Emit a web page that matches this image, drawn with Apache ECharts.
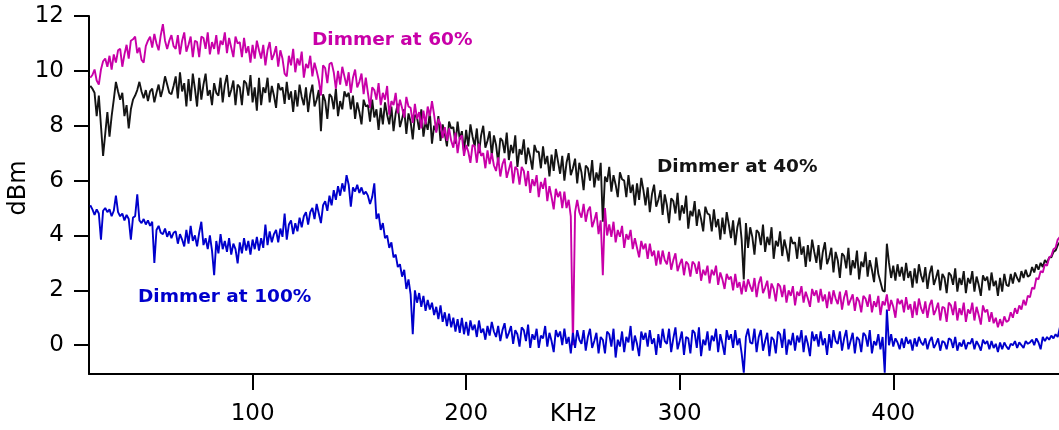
<!DOCTYPE html>
<html>
<head>
<meta charset="utf-8">
<script src="https://cdn.jsdelivr.net/npm/echarts@6/dist/echarts.min.js"></script>
<style>
html,body{margin:0;padding:0;background:#fff;}
#c{width:1059px;height:430px;}
</style>
</head>
<body>
<div id="c"></div>
<script>
// Frequency (KHz)
const freq = [
24,25,26,27,28,29,30,31,32,33,
34,35,36,37,38,39,40,41,42,43,
44,45,46,47,48,49,50,51,52,53,
54,55,56,57,58,59,60,61,62,63,
64,65,66,67,68,69,70,71,72,73,
74,75,76,77,78,79,80,81,82,83,
84,85,86,87,88,89,90,91,92,93,
94,95,96,97,98,99,100,101,102,103,
104,105,106,107,108,109,110,111,112,113,
114,115,116,117,118,119,120,121,122,123,
124,125,126,127,128,129,130,131,132,133,
134,135,136,137,138,139,140,141,142,143,
144,145,146,147,148,149,150,151,152,153,
154,155,156,157,158,159,160,161,162,163,
164,165,166,167,168,169,170,171,172,173,
174,175,176,177,178,179,180,181,182,183,
184,185,186,187,188,189,190,191,192,193,
194,195,196,197,198,199,200,201,202,203,
204,205,206,207,208,209,210,211,212,213,
214,215,216,217,218,219,220,221,222,223,
224,225,226,227,228,229,230,231,232,233,
234,235,236,237,238,239,240,241,242,243,
244,245,246,247,248,249,250,251,252,253,
254,255,256,257,258,259,260,261,262,263,
264,265,266,267,268,269,270,271,272,273,
274,275,276,277,278,279,280,281,282,283,
284,285,286,287,288,289,290,291,292,293,
294,295,296,297,298,299,300,301,302,303,
304,305,306,307,308,309,310,311,312,313,
314,315,316,317,318,319,320,321,322,323,
324,325,326,327,328,329,330,331,332,333,
334,335,336,337,338,339,340,341,342,343,
344,345,346,347,348,349,350,351,352,353,
354,355,356,357,358,359,360,361,362,363,
364,365,366,367,368,369,370,371,372,373,
374,375,376,377,378,379,380,381,382,383,
384,385,386,387,388,389,390,391,392,393,
394,395,396,397,398,399,400,401,402,403,
404,405,406,407,408,409,410,411,412,413,
414,415,416,417,418,419,420,421,422,423,
424,425,426,427,428,429,430,431,432,433,
434,435,436,437,438,439,440,441,442,443,
444,445,446,447,448,449,450,451,452,453,
454,455,456,457,458,459,460,461,462,463,
464,465,466,467,468,469,470,471,472,473,
474,475,476,477,478
];

// Dimmer at 40% (dBm)
const dimmer40 = [
9.45,9.35,9.2,8.35,9.1,8.0,6.9,7.7,8.5,7.6,
8.35,8.95,9.6,9.25,8.95,9.2,8.35,8.75,7.9,8.6,
8.95,9.1,9.3,9.6,9.25,9.0,9.3,8.9,9.25,9.35,
8.85,9.2,9.5,9.05,9.35,9.8,9.5,9.2,9.15,9.45,
9.8,9.0,9.95,9.25,9.55,8.7,9.7,8.9,9.9,9.35,
8.7,9.75,8.95,9.5,9.9,9.1,9.3,8.75,9.55,9.2,
9.1,9.75,8.85,9.5,9.85,9.05,9.3,9.65,8.75,9.5,
9.4,8.75,9.65,9.55,9.1,9.85,8.85,9.4,8.55,9.75,
8.75,9.4,9.2,9.75,8.85,9.45,9.1,8.65,9.55,9.3,
9.4,8.8,9.6,8.95,9.25,8.5,9.3,8.7,9.5,9.05,
8.75,9.4,8.5,9.15,9.5,8.7,8.95,9.3,7.8,9.15,
8.9,8.25,9.15,9.05,8.6,9.35,8.35,8.9,8.6,9.25,
9.05,9.2,8.6,9.1,8.25,8.85,8.5,8.05,8.95,8.7,
8.75,8.15,8.95,8.3,8.6,7.85,8.65,8.05,8.85,8.4,
8.05,8.7,7.8,8.45,8.8,7.95,8.25,8.6,7.7,8.45,
8.15,7.5,8.4,8.3,7.85,8.6,7.6,8.15,7.85,8.5,
7.35,8.0,7.8,8.35,7.45,8.05,7.7,7.25,8.15,7.9,
7.95,7.35,8.15,7.5,7.8,7.05,7.85,7.25,8.05,7.6,
7.25,7.9,7.0,7.65,8.0,7.2,7.45,7.8,6.9,7.65,
7.3,6.65,7.55,7.45,7.0,7.75,6.75,7.3,7.0,7.65,
6.5,7.15,6.95,7.5,6.6,7.2,6.85,6.4,7.3,7.05,
7.05,6.45,7.25,6.6,6.9,6.15,6.95,6.35,7.15,6.7,
6.25,6.9,6.0,6.65,7.0,6.2,6.45,6.8,5.9,6.65,
6.3,5.65,6.55,6.45,6.0,6.75,5.75,6.3,6.0,6.65,
4.5,6.15,5.95,6.5,5.6,6.2,5.85,5.4,6.3,6.05,
6.0,5.4,6.2,5.55,5.85,5.1,5.9,5.3,6.1,5.65,
5.1,5.75,4.85,5.5,5.85,5.05,5.3,5.65,4.75,5.5,
5.1,4.45,5.35,5.25,4.8,5.55,4.55,5.1,4.8,5.45,
4.25,4.9,4.7,5.25,4.35,4.95,4.6,4.15,5.05,4.8,
4.75,4.15,4.95,4.3,4.6,3.85,4.65,4.05,4.85,4.4,
3.9,4.55,3.65,4.3,4.65,3.85,2.4,4.45,3.55,4.3,
3.95,3.3,4.2,4.1,3.65,4.4,3.4,3.95,3.65,4.3,
3.15,3.8,3.6,4.15,3.25,3.85,3.5,3.05,3.95,3.7,
3.75,3.15,3.95,3.3,3.6,2.85,3.65,3.05,3.85,3.4,
3.0,3.65,2.75,3.4,3.75,2.95,3.2,3.55,2.65,3.4,
3.1,2.45,3.35,3.25,2.8,3.55,2.55,3.1,2.8,3.45,
2.4,3.05,2.85,3.4,2.5,3.1,2.75,2.3,3.2,2.6,
2.3,2.0,1.95,3.7,3.0,2.45,2.9,2.35,2.95,2.5,
2.85,2.35,3.0,2.45,2.7,2.1,2.8,2.25,2.95,2.55,
2.3,2.85,2.05,2.6,2.9,2.2,2.45,2.75,2.0,2.6,
2.45,1.9,2.65,2.55,2.2,2.8,1.95,2.45,2.2,2.7,
1.9,2.45,2.25,2.7,1.95,2.5,2.2,1.8,2.55,2.35,
2.5,2.0,2.65,2.15,2.35,1.8,2.45,1.95,2.6,2.2,
2.15,2.6,2.25,2.65,2.45,2.3,2.7,2.45,2.75,2.5,
2.55,2.85,2.65,2.95,2.75,3.0,2.85,3.1,3.0,3.2,
3.2,3.4,3.45,3.65,3.75
];

// Dimmer at 60% (dBm)
const dimmer60 = [
9.75,9.85,10.05,9.65,9.5,10.05,10.35,10.45,10.15,10.55,
10.05,10.6,10.3,10.75,10.8,10.15,10.6,10.95,10.45,11.1,
11.15,11.25,10.65,10.85,10.4,10.3,10.9,11.1,11.25,10.85,
11.35,11.0,10.75,11.3,11.7,11.1,10.8,11.1,11.3,10.9,
10.8,11.3,10.6,11.1,11.4,10.7,10.95,11.25,10.5,11.1,
11.05,10.5,11.25,11.2,10.8,11.4,10.6,11.05,10.8,11.3,
10.6,11.1,10.95,11.4,10.65,11.2,10.85,10.5,11.25,11.0,
11.05,10.5,11.2,10.65,10.9,10.3,10.95,10.45,11.1,10.75,
10.45,10.95,10.2,10.75,11.05,10.4,10.6,10.9,10.15,10.75,
10.45,9.9,9.8,10.55,10.2,10.8,9.95,10.45,10.2,10.7,
9.75,10.25,10.1,10.55,9.8,10.3,10.0,9.65,9.1,10.2,
10.1,9.55,10.25,10.3,9.95,9.35,10.0,9.5,10.15,9.8,
9.45,9.95,9.2,9.75,10.05,9.4,9.6,9.9,9.15,9.75,
9.2,8.65,9.4,9.3,8.95,9.55,8.75,9.2,8.95,9.45,
8.4,8.9,8.75,9.2,8.45,8.95,8.65,8.3,9.05,8.7,
8.65,8.1,8.8,8.25,8.5,7.9,8.55,8.05,8.7,8.35,
8.9,8.4,7.75,8.25,8.05,7.55,7.95,7.45,7.9,7.45,
7.2,7.75,7.0,7.55,7.65,6.9,7.3,7.05,6.65,7.3,
7.25,6.65,7.35,6.9,7.0,6.45,7.1,6.6,7.0,6.55,
6.35,6.85,6.15,6.6,6.8,6.1,6.4,6.7,5.9,6.5,
6.4,5.85,6.5,6.35,5.8,6.35,5.55,6.05,5.8,6.2,
5.4,5.95,5.7,6.1,5.25,5.8,5.4,4.95,5.7,5.4,
5.6,5.0,5.6,5.0,5.3,4.7,0.0,4.85,5.3,4.85,
4.65,5.15,4.5,4.9,5.05,4.3,4.55,4.85,4.05,4.55,
2.55,5.0,4.0,4.4,3.95,4.5,3.75,4.2,3.95,4.35,
3.55,4.05,3.85,4.2,3.5,3.9,3.55,3.2,3.8,3.5,
3.7,3.15,3.7,3.25,3.45,2.9,3.45,2.95,3.45,3.1,
2.95,3.4,2.75,3.1,3.35,2.7,2.95,3.15,2.55,3.05,
2.95,2.5,3.05,2.95,2.6,3.05,2.35,2.75,2.55,2.9,
2.25,2.75,2.55,2.9,2.2,2.65,2.4,2.05,2.6,2.4,
2.5,2.0,2.6,2.1,2.3,1.85,2.35,1.95,2.4,2.15,
1.95,2.45,1.75,2.25,2.5,1.9,2.1,2.35,1.7,2.25,
2.05,1.6,2.25,2.15,1.75,2.2,1.55,2.0,1.8,2.15,
1.45,1.95,1.8,2.15,1.55,1.95,1.7,1.4,2.05,1.8,
2.0,1.55,2.05,1.6,1.85,1.35,1.95,1.5,2.0,1.7,
1.5,1.95,1.3,1.75,2.0,1.45,1.65,1.85,1.25,1.75,
1.6,1.2,1.8,1.7,1.4,1.85,1.2,1.6,1.4,1.8,
1.1,1.6,1.45,1.85,1.25,1.65,1.4,1.0,1.7,1.5,
1.65,1.2,1.75,1.3,1.5,1.0,1.6,1.1,1.7,1.35,
1.15,1.6,1.0,1.45,1.65,1.1,1.3,1.55,0.9,1.4,
1.35,0.85,1.55,1.45,1.1,1.6,0.9,1.35,1.1,1.55,
0.85,1.3,1.15,1.55,0.9,1.4,1.1,0.75,1.45,1.2,
1.3,0.85,1.2,0.8,1.0,0.65,0.95,0.7,1.05,0.85,
0.9,1.2,1.0,1.35,1.15,1.45,1.3,1.65,1.45,1.8,
1.75,2.1,2.05,2.45,2.4,2.7,2.65,2.95,2.9,3.2,
3.25,3.5,3.55,3.85,3.95
];

// Dimmer at 100% (dBm)
const dimmer100 = [
5.1,4.95,4.75,4.95,4.8,3.85,4.9,5.0,4.85,4.95,
4.7,4.9,5.45,4.85,4.7,4.8,4.55,4.75,4.6,3.85,
4.65,4.7,5.5,4.55,4.45,4.6,4.4,4.55,4.35,4.5,
3.0,4.2,4.35,4.1,4.05,4.25,3.95,4.15,3.9,4.1,
4.15,3.7,4.05,3.85,3.6,4.2,3.7,4.35,3.8,4.0,
3.6,4.1,4.5,3.65,3.9,3.5,4.0,3.45,2.55,3.8,
3.35,4.05,3.5,3.8,3.4,3.9,3.3,3.7,3.5,2.98,
3.75,3.35,3.9,3.45,3.8,3.3,3.85,3.5,3.95,3.45,
3.9,3.55,4.4,3.65,4.15,3.75,4.05,4.2,3.75,4.25,
3.95,4.8,3.85,4.4,4.55,4.05,4.45,4.15,4.65,4.3,
4.7,4.85,4.4,4.85,5.0,4.6,5.15,4.8,4.45,5.1,
5.25,4.9,5.45,5.1,5.65,5.3,5.8,5.45,5.9,5.6,
6.2,5.85,5.05,5.75,5.6,5.85,5.55,5.75,5.5,5.6,
5.45,5.15,5.4,5.9,4.6,4.8,4.2,4.45,3.9,4.0,
3.55,3.75,3.2,3.3,2.85,2.95,2.5,2.75,2.05,2.4,
1.85,0.4,2.0,1.55,1.9,1.4,1.8,1.25,1.65,1.3,
1.55,1.1,1.4,0.95,1.45,0.85,1.2,0.7,1.15,0.65,
1.0,0.5,0.95,0.45,1.0,0.4,0.85,0.35,0.9,0.55,
0.75,0.3,0.9,0.45,0.6,0.2,0.7,0.35,0.85,0.5,
0.3,0.7,0.15,0.55,0.8,0.25,0.45,0.7,0.05,0.55,
0.4,-0.05,0.65,0.55,0.15,0.75,-0.1,0.4,0.2,0.6,
-0.1,0.35,0.25,0.7,-0.05,0.45,0.15,-0.25,0.55,0.3,
0.5,0.0,0.6,0.05,0.3,-0.3,0.45,-0.1,0.55,0.2,
0.05,0.55,-0.2,0.3,0.6,-0.1,0.15,0.45,-0.3,0.3,
0.2,-0.3,0.5,0.4,-0.05,0.6,-0.45,0.2,-0.05,0.5,
-0.25,0.3,0.1,0.7,-0.2,0.35,0.05,-0.4,0.5,0.2,
0.45,-0.05,0.55,0.05,0.25,-0.35,0.4,-0.1,0.6,0.15,
0.05,0.6,-0.25,0.25,0.65,-0.15,0.15,0.5,-0.35,0.3,
0.25,-0.3,0.55,0.45,-0.1,0.65,-0.4,0.2,0.0,0.5,
-0.2,0.35,0.15,0.6,-0.25,0.4,0.05,-0.35,0.55,0.2,
0.4,-0.1,0.55,0.0,0.25,-0.3,-1.0,0.3,0.6,0.1,
0.05,0.6,-0.25,0.3,0.55,-0.2,0.15,0.45,-0.4,0.3,
0.2,-0.3,0.5,0.4,-0.1,0.6,-0.35,0.2,0.0,0.45,
-0.2,0.35,0.1,0.55,-0.25,0.35,0.05,-0.4,0.5,0.15,
0.4,-0.05,0.5,0.0,0.25,-0.35,0.4,-0.1,0.55,0.15,
0.05,0.5,-0.2,0.25,0.55,-0.15,0.15,0.45,-0.3,0.3,
0.2,-0.25,0.45,0.35,-0.05,0.55,-0.3,0.15,0.0,0.4,
-0.15,0.3,-1.0,1.3,0.0,0.4,-0.05,0.25,0.1,-0.15,
0.25,-0.1,0.3,0.05,0.2,-0.2,0.25,-0.05,0.3,0.1,
0.0,0.25,-0.15,0.15,0.3,-0.1,0.05,0.25,-0.2,0.15,
0.1,-0.15,0.25,0.2,-0.1,0.3,-0.2,0.1,-0.05,0.2,
-0.15,0.1,0.05,0.25,-0.15,0.15,0.0,-0.2,0.2,0.05,
0.15,-0.15,0.15,-0.1,0.05,-0.25,0.1,-0.15,0.1,-0.05,
-0.15,0.05,0.0,0.15,-0.1,0.1,0.0,-0.1,0.15,0.05,
0.1,0.2,0.0,0.25,0.1,-0.15,0.3,0.15,0.3,0.2,
0.35,0.25,0.4,0.3,0.65
];

const xTicks = [100, 200, 300, 400];
const yTicks = [0, 2, 4, 6, 8, 10, 12];

const FONT = '"DejaVu Sans", Verdana, sans-serif';
const pairs = (ys) => freq.map((f, i) => [f, ys[i]]);

const chart = echarts.init(document.getElementById('c'), null, {renderer: 'canvas'});
chart.setOption({
  animation: false,
  backgroundColor: '#ffffff',
  grid: {left: 89, right: 0, top: 16, bottom: 56, containLabel: false},
  xAxis: {
    type: 'value', min: 23.4, max: 477.6,
    axisLine: {show: true, onZero: false, lineStyle: {color: '#000', width: 2}},
    axisTick: {show: true, length: 16, customValues: xTicks, lineStyle: {color: '#000', width: 2}},
    axisLabel: {customValues: xTicks, margin: 29, color: '#000', fontSize: 23, fontFamily: FONT},
    splitLine: {show: false}
  },
  yAxis: {
    type: 'value', min: -1.05, max: 12,
    axisLine: {show: true, onZero: false, lineStyle: {color: '#000', width: 2}},
    axisTick: {show: true, length: 15, customValues: yTicks, lineStyle: {color: '#000', width: 2}},
    axisLabel: {customValues: yTicks, margin: 25, color: '#000', fontSize: 23, fontFamily: FONT},
    splitLine: {show: false}
  },
  series: [
    {name: 'Dimmer at 40%', type: 'line', data: pairs(dimmer40), showSymbol: false, symbol: 'none',
     lineStyle: {color: '#141414', width: 1.9}, z: 2},
    {name: 'Dimmer at 60%', type: 'line', data: pairs(dimmer60), showSymbol: false, symbol: 'none',
     lineStyle: {color: '#c800a8', width: 1.9}, z: 3},
    {name: 'Dimmer at 100%', type: 'line', data: pairs(dimmer100), showSymbol: false, symbol: 'none',
     lineStyle: {color: '#0000cc', width: 1.9}, z: 4}
  ],
  graphic: [
    {type: 'text', x: 573, y: 415, style: {text: 'KHz', fill: '#000', fontSize: 24, fontFamily: FONT, textAlign: 'center', textVerticalAlign: 'middle'}},
    {type: 'text', x: 19, y: 188, rotation: Math.PI / 2, style: {text: 'dBm', fill: '#000', fontSize: 24, fontFamily: FONT, textAlign: 'center', textVerticalAlign: 'middle'}},
    {type: 'text', x: 312, y: 40, style: {text: 'Dimmer at 60%', fill: '#c800a8', fontSize: 18.5, fontWeight: 'bold', fontFamily: FONT, textAlign: 'left', textVerticalAlign: 'middle'}},
    {type: 'text', x: 657, y: 167, style: {text: 'Dimmer at 40%', fill: '#141414', fontSize: 18.5, fontWeight: 'bold', fontFamily: FONT, textAlign: 'left', textVerticalAlign: 'middle'}},
    {type: 'text', x: 138, y: 297, style: {text: 'Dimmer at 100%', fill: '#0000cc', fontSize: 18.5, fontWeight: 'bold', fontFamily: FONT, textAlign: 'left', textVerticalAlign: 'middle'}}
  ]
});
</script>
</body>
</html>
